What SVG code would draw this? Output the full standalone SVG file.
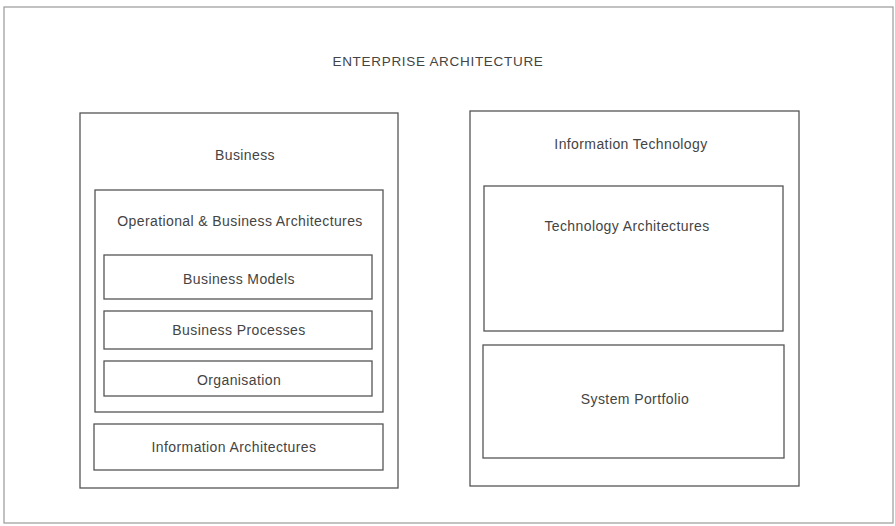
<svg xmlns="http://www.w3.org/2000/svg" width="895" height="526" viewBox="0 0 895 526">
<style>
.box{fill:none;stroke:#555;stroke-width:1.3}
.frame{fill:none;stroke:#999;stroke-width:1.2}
text{font-family:"Liberation Sans",Arial,sans-serif;font-size:14px;fill:#444;text-anchor:middle;letter-spacing:0.4px}
.title{letter-spacing:0.7px;font-size:13.5px}
</style>
<rect width="895" height="526" fill="#fff"/>
<g id="frame"><rect class="frame" x="4" y="7" width="889" height="516"/>
<text class="title" x="438" y="66">ENTERPRISE ARCHITECTURE</text></g>
<g id="business"><rect class="box" x="80" y="113" width="318" height="375"/><text x="245" y="160">Business</text></g>
<g id="operational"><rect class="box" x="95" y="190" width="288" height="222"/><text x="240" y="226">Operational &amp; Business Architectures</text></g>
<g id="models"><rect class="box" x="104" y="255" width="268" height="44"/><text x="239" y="284">Business Models</text></g>
<g id="processes"><rect class="box" x="104" y="311" width="268" height="38"/><text x="239" y="335">Business Processes</text></g>
<g id="organisation"><rect class="box" x="104" y="361" width="268" height="35"/><text x="239" y="385">Organisation</text></g>
<g id="info-arch"><rect class="box" x="94" y="424" width="289" height="46"/><text x="234" y="452">Information Architectures</text></g>
<g id="it"><rect class="box" x="470" y="111" width="329" height="375"/><text x="631" y="149">Information Technology</text></g>
<g id="tech-arch"><rect class="box" x="484" y="186" width="299" height="145"/><text x="627" y="231">Technology Architectures</text></g>
<g id="portfolio"><rect class="box" x="483" y="345" width="301" height="113"/><text x="635" y="404">System Portfolio</text></g>
<g id="connectors"/>
</svg>
